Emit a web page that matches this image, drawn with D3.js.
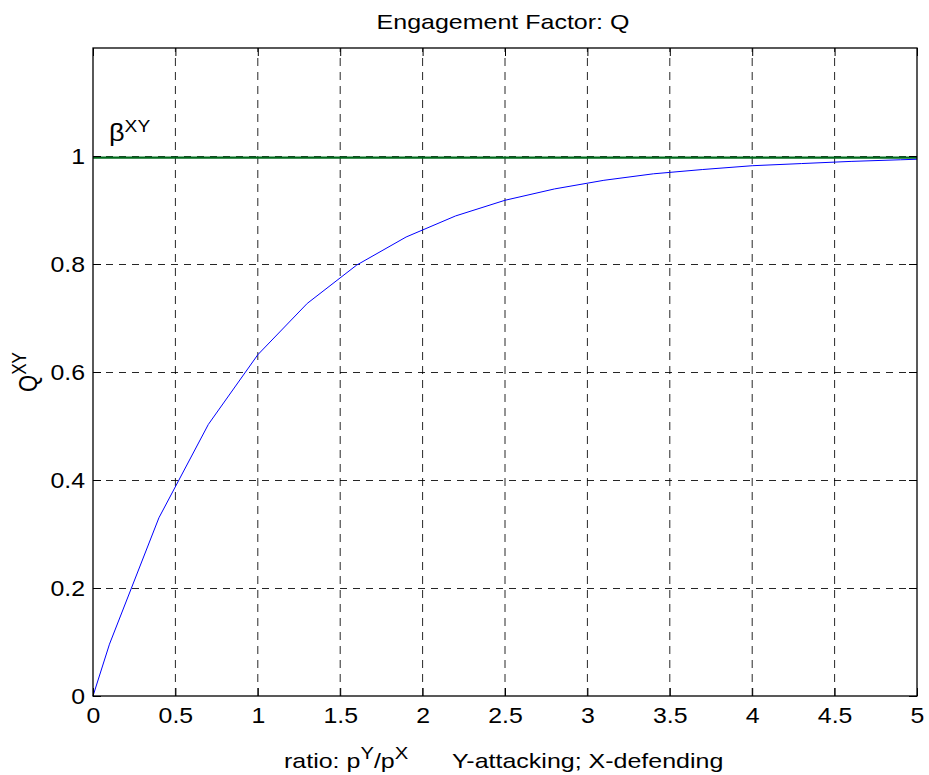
<!DOCTYPE html>
<html>
<head>
<meta charset="utf-8">
<script src="https://cdn.jsdelivr.net/npm/d3@7"></script>
<style>
  html, body { margin: 0; padding: 0; background: #fff; }
  svg { display: block; }
  text { font-family: "Liberation Sans", Arial, Helvetica, sans-serif; fill: #000; }
</style>
</head>
<body>
<svg id="chart" width="929" height="775"></svg>
<script>
// Engagement factor Q^XY as a function of the force ratio p^Y/p^X
const ratio = [0, 0.1, 0.4, 0.7, 1.0, 1.3, 1.6, 1.9, 2.2, 2.5, 2.8, 3.1, 3.4, 3.7, 4.0, 4.3, 4.6, 4.9, 5.0];
const engagementQ = [0, 0.096, 0.330, 0.503, 0.632, 0.727, 0.798, 0.850, 0.889, 0.918, 0.939, 0.955, 0.967, 0.975, 0.982, 0.986, 0.990, 0.993, 0.994];
// asymptote beta^XY
const betaXY = [0.997];

const xTicks = [0, 0.5, 1, 1.5, 2, 2.5, 3, 3.5, 4, 4.5, 5];
const xTickLabels = ["0", "0.5", "1", "1.5", "2", "2.5", "3", "3.5", "4", "4.5", "5"];
const yTicks = [0, 0.2, 0.4, 0.6, 0.8, 1];
const yTickLabels = ["0", "0.2", "0.4", "0.6", "0.8", "1"];

const titleText = "Engagement Factor: Q";

const plot = { left: 93, right: 917, top: 48, bottom: 696 };
const FONT = 22;     // tick labels
const LFONT = 21;    // title and axis labels
const SUP = 17;
const SX = 1.13;     // glyph widening for tick labels
const SXL = 1.19;    // glyph widening for title and labels

const svg = d3.select("#chart");

const x = d3.scaleLinear().domain([0, 5]).range([plot.left, plot.right]);
const y = d3.scaleLinear().domain([0, 1.2]).range([plot.bottom, plot.top]);

// grid
const grid = svg.append("g").attr("fill", "none").attr("stroke", "#000").attr("stroke-width", 1);
grid.selectAll("line.vg").data(xTicks.slice(1, -1)).join("line")
  .attr("class", "vg")
  .attr("x1", d => x(d)).attr("x2", d => x(d))
  .attr("y1", plot.bottom).attr("y2", plot.top)
  .attr("stroke-dasharray", "8,6")
  .attr("stroke-opacity", 0.85);
grid.selectAll("line.hg").data(yTicks.slice(1)).join("line")
  .attr("class", "hg")
  .attr("x1", plot.left).attr("x2", plot.right)
  .attr("y1", d => Math.round(y(d)) + 0.5).attr("y2", d => Math.round(y(d)) + 0.5)
  .attr("stroke-dasharray", "7,6")
  .attr("stroke-opacity", 0.85);

// beta line
svg.append("g").selectAll("line").data(betaXY).join("line")
  .attr("x1", x(0)).attr("x2", x(5))
  .attr("y1", d => y(d)).attr("y2", d => y(d))
  .attr("stroke", "#006a1c").attr("stroke-width", 2.2);

// Q curve
const pts = ratio.map((r, i) => [r, engagementQ[i]]);
svg.append("path")
  .datum(pts)
  .attr("fill", "none")
  .attr("stroke", "#0000ff")
  .attr("stroke-width", 1)
  .attr("d", d3.line().x(d => x(d[0])).y(d => y(d[1])));

// axes with inward ticks on all four sides
function styleAxis(g) {
  g.select(".domain").remove();
  g.selectAll(".tick line").attr("stroke", "#000");
  g.selectAll("text").attr("font-size", FONT).attr("font-family", null);
}
const bottomAxis = svg.append("g")
  .attr("transform", `translate(0,${plot.bottom})`)
  .call(d3.axisBottom(x).tickValues(xTicks).tickFormat((d, i) => xTickLabels[i])
    .tickSizeInner(-8).tickSizeOuter(0).tickPadding(11));
styleAxis(bottomAxis);
bottomAxis.selectAll("text").attr("transform", `scale(${SX},1)`);

const leftAxis = svg.append("g")
  .attr("transform", `translate(${plot.left},0)`)
  .call(d3.axisLeft(y).tickValues(yTicks).tickFormat((d, i) => yTickLabels[i])
    .tickSizeInner(-8).tickSizeOuter(0).tickPadding(8));
styleAxis(leftAxis);
leftAxis.selectAll("text").attr("x", 0).attr("transform", `translate(-8,0) scale(${SX},1)`);

const topAxis = svg.append("g")
  .attr("transform", `translate(0,${plot.top})`)
  .call(d3.axisTop(x).tickValues(xTicks).tickFormat("").tickSizeInner(-8).tickSizeOuter(0));
styleAxis(topAxis);
const rightAxis = svg.append("g")
  .attr("transform", `translate(${plot.right},0)`)
  .call(d3.axisRight(y).tickValues(yTicks).tickFormat("").tickSizeInner(-8).tickSizeOuter(0));
styleAxis(rightAxis);

// box
svg.append("rect")
  .attr("x", plot.left).attr("y", plot.top)
  .attr("width", plot.right - plot.left).attr("height", plot.bottom - plot.top)
  .attr("fill", "none").attr("stroke", "#000").attr("stroke-width", 1.3);

// title
svg.append("text")
  .attr("transform", `translate(${(plot.left + plot.right) / 2 - 2},29) scale(${SXL},1)`)
  .attr("text-anchor", "middle")
  .attr("font-size", LFONT)
  .text(titleText);

// helper for text with superscripts
function richText(sel, parts) {
  parts.forEach(p => {
    const t = sel.append("tspan").text(p.t);
    if (p.sup) t.attr("font-size", SUP).attr("baseline-shift", "55%");
  });
}

// x label
const xl1 = svg.append("text")
  .attr("transform", `translate(284,768) scale(${SXL},1)`)
  .attr("font-size", LFONT);
richText(xl1, [{ t: "ratio: p" }, { t: "Y", sup: true }, { t: "/p" }, { t: "X", sup: true }]);
svg.append("text")
  .attr("transform", `translate(452,768) scale(${SXL},1)`)
  .attr("font-size", LFONT)
  .text("Y-attacking; X-defending");

// y label
const yl = svg.append("text")
  .attr("transform", `translate(37,${(plot.top + plot.bottom) / 2}) scale(${SXL},1) rotate(-90)`)
  .attr("text-anchor", "middle")
  .attr("font-size", FONT);
richText(yl, [{ t: "Q" }, { t: "XY", sup: true }]);

// beta label
const bl = svg.append("text")
  .attr("transform", `translate(109,141) scale(${SX},1)`)
  .attr("font-size", 24);
richText(bl, [{ t: "β" }, { t: "XY", sup: true }]);
</script>
</body>
</html>
